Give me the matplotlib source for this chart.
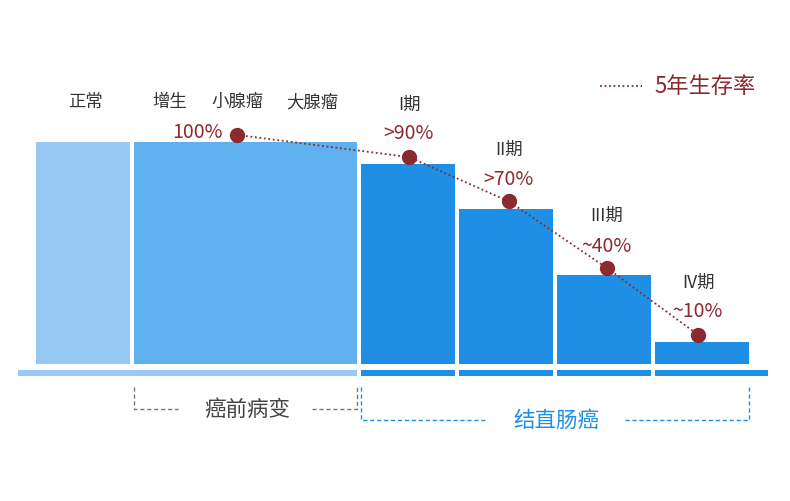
import matplotlib
matplotlib.use('Agg')
import matplotlib.pyplot as plt

plt.rcParams['font.family'] = ['Noto Sans CJK SC', 'DejaVu Sans']

# data
stage_names = ['正常', '增生', '小腺瘤', '大腺瘤']
cancer_stages = ['I期', 'II期', 'III期', 'IV期']
bar_values = [100, 100, 90, 70, 40, 10]
survival_labels = ['100%', '>90%', '>70%', '~40%', '~10%']
survival_values = [100, 90, 70, 40, 10]

# layout (x positions in pixel-like units)
bar_left = [36, 134, 361, 459, 557, 655]
bar_width = [94, 223, 94, 94, 94, 94]
bar_colors = ['#96c9f3', '#5fb0ee', '#1e8fe5', '#1e8fe5', '#1e8fe5', '#1e8fe5']
stage_x = [85, 170, 237, 312]
dot_x = [237, 409, 509, 607, 698]

red = '#8b2a2f'
blue = '#1e8fe5'

fig = plt.figure(figsize=(7.9, 5.02), dpi=100)
ax = fig.add_axes([0, 0, 1, 1])
scale = 2.22  # pixels per unit
ax.set_xlim(0, 790)
ax.set_ylim(-137 / scale, 365 / scale)
ax.axis('off')

ax.bar(bar_left, bar_values, width=bar_width, align='edge', color=bar_colors)

# baseline strip
strip_y = -6 / scale
strip_h = -6 / scale
ax.bar([18], [strip_h], width=[339], bottom=strip_y, align='edge', color='#96c9f3')
ax.bar([361, 459, 557, 655], [strip_h] * 4, width=[94, 94, 94, 113],
       bottom=strip_y, align='edge', color=blue)

# stage labels
for x, name in zip(stage_x, stage_names):
    ax.text(x, 263 / scale, name, ha='center', va='center', fontsize=12.5, color='#333333')
for i, name in enumerate(cancer_stages):
    ax.text(dot_x[i + 1], bar_values[i + 2] + 27, name, ha='center', va='center',
            fontsize=12.5, color='#333333')

# survival curve
dot_y = [v + 3.2 for v in survival_values]
ax.plot(dot_x, dot_y, color=red, linestyle=(0, (1, 1.5)), linewidth=1.3)
ax.plot(dot_x, dot_y, 'o', color=red, markersize=10)
label_x = [197, 408, 508, 606, 697]
label_y = [dot_y[0] + 1.5, dot_y[1] + 11.3, dot_y[2] + 10.4, dot_y[3] + 10.4, dot_y[4] + 10.8]
for x, y, t in zip(label_x, label_y, survival_labels):
    ax.text(x, y, t, ha='center', va='center', fontsize=14, color=red)

# legend
ax.plot([600, 642], [278 / scale] * 2, color=red, linestyle=(0, (1, 1.5)), linewidth=1.3)
ax.text(705, 278 / scale, '5年生存率', ha='center', va='center', fontsize=16, color=red)

# brackets
def py(p):
    return (365 - p) / scale

dash = (0, (3, 2))
ax.plot([134, 134, 178], [py(388), py(410), py(410)], color='#777777', linestyle=dash, linewidth=1)
ax.plot([312, 357, 357], [py(410), py(410), py(388)], color='#777777', linestyle=dash, linewidth=1)
ax.text(247, py(410), '癌前病变', ha='center', va='center', fontsize=15.5, color='#444444')

ax.plot([361, 361, 485], [py(388), py(421), py(421)], color=blue, linestyle=dash, linewidth=1)
ax.plot([625, 749, 749], [py(421), py(421), py(386)], color=blue, linestyle=dash, linewidth=1)
ax.text(556, py(421), '结直肠癌', ha='center', va='center', fontsize=15.5, color=blue)

fig.savefig('out.png', dpi=100)
